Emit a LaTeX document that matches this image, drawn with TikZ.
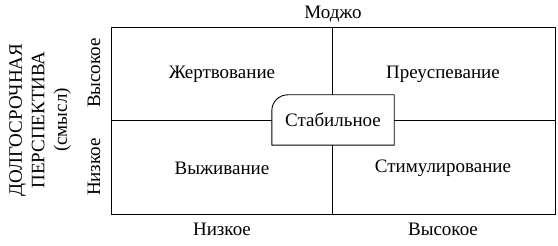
\documentclass[tikz,border=0pt]{standalone}
\usepackage{fontspec}
\setmainfont{Liberation Serif}
\usetikzlibrary{backgrounds}
\begin{document}
\begin{tikzpicture}[x=1pt,y=-1pt,
  lbl/.style={font=\fontsize{19}{21}\selectfont, inner sep=0pt},
  frame/.style={line width=0.9pt, draw=black}]
\useasboundingbox (0,0) rectangle (558,246);
% outer frame corners
\coordinate (tl) at (111,27);
\coordinate (br) at (555,214);
\coordinate (top) at (332,27);
\coordinate (bot) at (332,214);
\coordinate (lft) at (111,120);
\coordinate (rgt) at (555,120);
\node[lbl, minimum width=122pt, minimum height=50pt] (stab) at (333,120) {Стабильное};
\begin{scope}[on background layer]
  \draw[frame] (tl) rectangle (br);
  \draw[frame] (top) -- (bot);
  \draw[frame] (lft) -- (rgt);
  \draw[frame, fill=white] (stab.west) [rounded corners=16pt] -- (stab.north west) -- (stab.north) [sharp corners] -- (stab.north east) -- (stab.south east) -- (stab.south west) -- cycle;
\end{scope}
% quadrant labels
\node[lbl] (q1) at (222,74) {Жертвование};
\node[lbl] (q2) at (443,74) {Преуспевание};
\node[lbl] (q3) at (222,168) {Выживание};
\node[lbl] (q4) at (443,168) {Стимулирование};
% axis labels
\node[lbl] (mojo) at (333,14) {Моджо};
\node[lbl] (xlow) at (222,229) {Низкое};
\node[lbl] (xhigh) at (443,229) {Высокое};
\node[lbl, rotate=90] (yhigh) at (94,73) {Высокое};
\node[lbl, rotate=90] (ylow) at (94,167) {Низкое};
\node[lbl, rotate=90, align=center, font=\fontsize{19}{22.5}\selectfont] (ytitle) at (40,120) {ДОЛГОСРОЧНАЯ\\ПЕРСПЕКТИВА\\(смысл)};
\end{tikzpicture}
\end{document}
